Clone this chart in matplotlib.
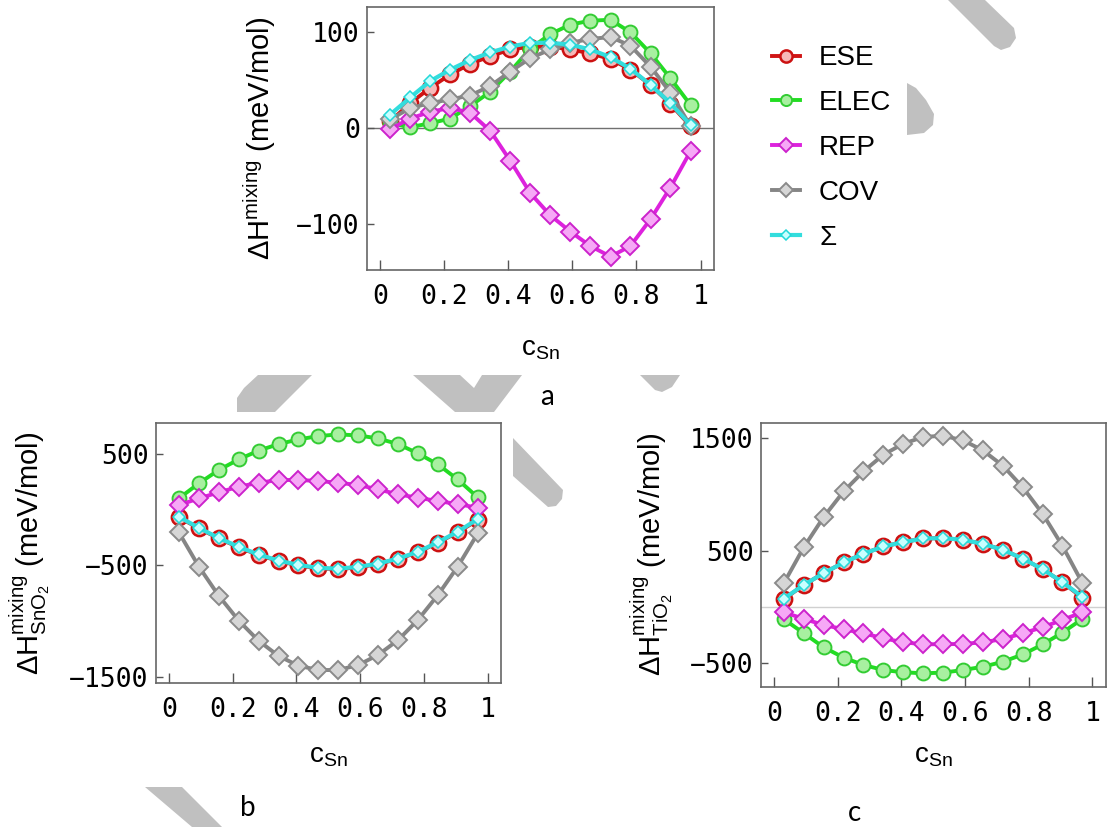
import matplotlib
matplotlib.use("Agg")
import matplotlib.pyplot as plt
from matplotlib.patches import Polygon

# ---------------- data ----------------
c_sn = [0.031, 0.094, 0.156, 0.219, 0.281, 0.344, 0.406, 0.469,
        0.531, 0.594, 0.656, 0.719, 0.781, 0.844, 0.906, 0.969]

xticks = [0, 0.2, 0.4, 0.6, 0.8, 1]
xticklabels = ["0", "0.2", "0.4", "0.6", "0.8", "1"]

series_names = ["ESE", "ELEC", "REP", "COV", "Σ"]

# panel a
ese_a = [7, 26, 42, 56, 67, 75, 82, 85, 85, 82, 78, 72, 61, 45, 25, 2]
elec_a = [5, 1, 5, 10, 23, 38, 59, 83, 98, 108, 112, 113, 100, 78, 52, 24]
rep_a = [-1, 10, 17, 21, 16, -3, -34, -68, -91, -108, -123, -134, -123, -95, -62, -24]
cov_a = [9, 21, 26, 30, 34, 44, 59, 73, 82, 89, 93, 95, 86, 64, 37, 2]
sum_a = [14, 32, 49, 61, 71, 79, 85, 89, 89, 87, 82, 74, 62, 45, 26, 3]
yticks_a = [-100, 0, 100]

# panel b (SnO2)
ese_b = [-70, -169, -259, -339, -408, -462, -501, -528, -534, -519, -489, -444, -384, -297, -205, -94]
elec_b = [100, 235, 354, 450, 528, 587, 629, 659, 674, 665, 638, 587, 504, 405, 270, 109]
rep_b = [40, 100, 154, 205, 240, 265, 265, 256, 240, 220, 181, 136, 106, 76, 49, 16]
cov_b = [-205, -513, -773, -997, -1177, -1314, -1401, -1440, -1440, -1395, -1305, -1171, -991, -767, -513, -214]
sum_b = [-65, -165, -255, -335, -403, -458, -497, -524, -530, -515, -485, -440, -380, -293, -200, -85]
yticks_b = [-1500, -500, 500]

# panel c (TiO2)
ese_c = [70, 197, 301, 396, 473, 538, 576, 609, 612, 597, 561, 508, 431, 336, 221, 81]
elec_c = [-108, -233, -357, -449, -514, -559, -579, -588, -582, -559, -530, -486, -421, -332, -227, -105]
rep_c = [-46, -105, -159, -197, -233, -277, -313, -330, -330, -327, -313, -284, -233, -179, -114, -46]
cov_c = [212, 532, 799, 1027, 1204, 1353, 1450, 1510, 1521, 1480, 1391, 1255, 1065, 828, 544, 212]
sum_c = [75, 197, 301, 396, 473, 538, 576, 609, 612, 597, 561, 508, 431, 336, 221, 90]
yticks_c = [-500, 500, 1500]

# ---------------- styles ----------------
styles = {
    "ESE":  dict(color="#d01515", marker="o", ms=11, mfc="#f6b8b8", mec="#cc1111", lw=2.8, mew=1.8),
    "ELEC": dict(color="#22dd22", marker="o", ms=10, mfc="#a8f0a0", mec="#33cc33", lw=2.8, mew=1.4),
    "REP":  dict(color="#dd22dd", marker="D", ms=9.5, mfc="#f6a8f6", mec="#cc22cc", lw=2.8, mew=1.4),
    "COV":  dict(color="#858585", marker="D", ms=9.5, mfc="#d6d6d6", mec="#8a8a8a", lw=2.8, mew=1.4),
    "Σ":    dict(color="#33dddd", marker="D", ms=6, mfc="#c8ffff", mec="#22d8d8", lw=3.0, mew=1.1),
}

plt.rcParams["mathtext.fontset"] = "custom"
plt.rcParams["mathtext.rm"] = "Liberation Sans"
plt.rcParams["mathtext.it"] = "Liberation Sans:italic"
plt.rcParams["mathtext.bf"] = "Liberation Sans:bold"

W, H = 1107, 827
fig = plt.figure(figsize=(W / 100, H / 100), dpi=100)


def fx(px):
    return px / W


def fy(py):
    return 1 - py / H


def make_axes(l, r, t, b):
    return fig.add_axes([fx(l), fy(b), fx(r) - fx(l), fy(t) - fy(b)])


ax_a = make_axes(366.7, 714, 7.3, 270)
ax_b = make_axes(155.6, 501, 422.7, 683.3)
ax_c = make_axes(760.6, 1105.7, 423, 686.7)

panels = [
    (ax_a, [ese_a, elec_a, rep_a, cov_a, sum_a], yticks_a, (-148, 126),
     r"$\Delta\mathrm{H}^{\mathrm{mixing}}$ (meV/mol)", "#707070",
     (-0.255, 0.5), (0.5, -0.25)),
    (ax_b, [ese_b, elec_b, rep_b, cov_b, sum_b], yticks_b, (-1559, 779),
     r"$\Delta\mathrm{H}^{\mathrm{mixing}}_{\mathrm{SnO_2}}$ (meV/mol)", None,
     (-0.30, 0.5), (0.5, -0.23)),
    (ax_c, [ese_c, elec_c, rep_c, cov_c, sum_c], yticks_c, (-707, 1634),
     r"$\Delta\mathrm{H}^{\mathrm{mixing}}_{\mathrm{TiO_2}}$ (meV/mol)", "#d0d0d0",
     (-0.248, 0.5), (0.5, -0.215)),
]

for ax, data, yt, ylim, ylab, zcol, ylc, xlc in panels:
    if zcol is not None:
        ax.axhline(0, color=zcol, lw=1.0, zorder=1)
    for name, vals in zip(series_names, data):
        ax.plot(c_sn, vals, label=name, zorder=3, **styles[name])
    ax.set_xlim(-0.042, 1.042)
    ax.set_ylim(*ylim)
    ax.set_xticks(xticks)
    ax.set_xticklabels(xticklabels)
    ax.set_yticks(yt)
    ax.set_yticklabels([("\u2212" + str(abs(v))) if v < 0 else str(v) for v in yt])
    ax.tick_params(direction="in", length=5, width=1, color="#555555",
                   labelsize=19, top=False, right=False)
    ax.tick_params(axis="x", pad=10, length=7)
    ax.tick_params(axis="y", pad=5)
    for lab in ax.get_xticklabels() + ax.get_yticklabels():
        lab.set_fontfamily("DejaVu Sans Mono")
    for sp in ax.spines.values():
        sp.set_color("#666666")
        sp.set_linewidth(1.2)
    ax.set_ylabel(ylab, fontsize=21, family="Liberation Sans")
    ax.yaxis.set_label_coords(*ylc)
    ax.set_xlabel(r"c$_{\mathrm{Sn}}$", fontsize=20, family="Liberation Sans")
    ax.xaxis.set_label_coords(*xlc)

# legend
handles, labels = ax_a.get_legend_handles_labels()
fig.legend(handles, labels, loc="center left",
           bbox_to_anchor=(fx(758), fy(148)), frameon=False,
           prop={"family": "Liberation Sans", "size": 20},
           labelspacing=0.68, handlelength=1.0, handletextpad=0.7,
           borderpad=0.0, markerscale=0.8)

# panel letters
for letter, px, py in [("a", 547, 397), ("b", 248, 808), ("c", 854, 813)]:
    fig.text(fx(px), fy(py), letter, fontsize=20, family="Lato",
             ha="center", va="center")

# watermark decorations (grey strokes in the background of the source image)
watermark_shapes = [
    [(948, 0), (985, 0), (1014, 28), (1016, 38), (1010, 47), (1001, 50), (994, 46)],
    [(907, 83), (916, 88), (926, 100), (934, 114), (933, 125), (924, 133), (907, 135)],
    [(258, 375), (312, 375), (275, 412), (237, 412), (237, 398), (244, 388)],
    [(413, 375), (460, 375), (474, 388), (482, 375), (522, 375), (494, 412), (455, 412)],
    [(640, 375), (680, 375), (672, 387), (662, 392), (655, 390)],
    [(513, 438), (563, 490), (562, 499), (556, 506), (548, 507), (513, 476)],
    [(145, 787), (182, 787), (222, 827), (192, 827)],
]
for shp in watermark_shapes:
    fig.patches.append(Polygon([(fx(x), fy(y)) for x, y in shp], closed=True,
                               transform=fig.transFigure, facecolor="#c0c0c0",
                               edgecolor="none", zorder=0))

fig.savefig("out.png", dpi=100)
